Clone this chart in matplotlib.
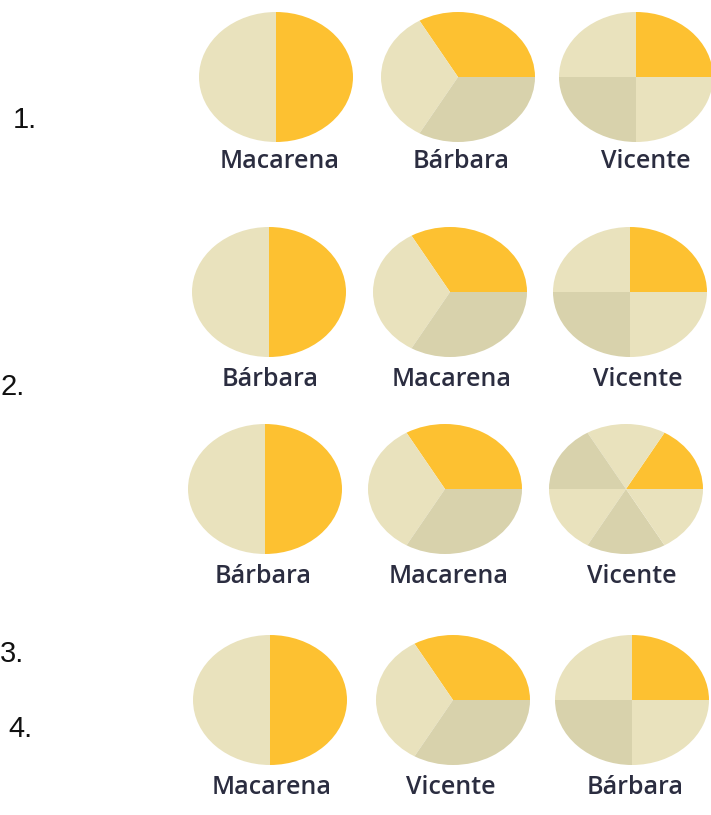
import matplotlib
matplotlib.use("Agg")
import matplotlib.pyplot as plt

W, H = 711, 815

# Option numbers on the left
option_labels = ["1.", "2.", "3.", "4."]

# Names under each pie, per option
names_opt1 = ["Macarena", "Bárbara", "Vicente"]
names_opt2 = ["Bárbara", "Macarena", "Vicente"]
names_opt3 = ["Bárbara", "Macarena", "Vicente"]
names_opt4 = ["Macarena", "Vicente", "Bárbara"]

# Number of equal parts each pie is divided into (one part highlighted)
parts_opt1 = [2, 3, 4]
parts_opt2 = [2, 3, 4]
parts_opt3 = [2, 3, 6]
parts_opt4 = [2, 3, 4]

names = [names_opt1, names_opt2, names_opt3, names_opt4]
parts = [parts_opt1, parts_opt2, parts_opt3, parts_opt4]

HIGHLIGHT = "#FDC131"
LIGHT = "#E9E2BD"
DARK = "#D8D2AC"

# layout in pixels
row_cy = [77, 292, 489, 700]
row_cx = [[276, 458, 636], [269, 450, 630], [265, 445, 626], [270, 453, 632]]
label_base = [168, 386, 583, 794]
label_cx = [[280, 461, 646], [270, 452, 638], [263, 449, 632], [272, 451, 635]]
num_pos = [(13, 128), (0, 395), (0, 662), (8, 737)]
RX, RY = 77, 65


def wedge_colors(n):
    if n == 2:
        return [HIGHLIGHT, LIGHT]
    if n == 3:
        return [HIGHLIGHT, LIGHT, DARK]
    return [HIGHLIGHT] + [LIGHT if i % 2 == 1 else DARK for i in range(1, n)]


fig = plt.figure(figsize=(W / 100, H / 100), dpi=100)
fig.patch.set_facecolor("white")

for r in range(4):
    cy = row_cy[r]
    for c in range(3):
        cx = row_cx[r][c]
        n = parts[r][c]
        ax = fig.add_axes([(cx - RX) / W, 1 - (cy + RY) / H, 2 * RX / W, 2 * RY / H])
        start = -90 if n == 2 else 0
        ax.pie([1] * n, colors=wedge_colors(n), startangle=start,
               counterclock=True, radius=1,
               wedgeprops=dict(linewidth=0, antialiased=True))
        ax.set_aspect("auto")
        ax.set_xlim(-1, 1)
        ax.set_ylim(-1, 1)
        ax.axis("off")
        fig.text(label_cx[r][c] / W, 1 - label_base[r] / H, names[r][c],
                 ha="center", va="baseline", fontsize=18,
                 family="Open Sans", weight="semibold", color="#2B2D40")

for lab, (x, y) in zip(option_labels, num_pos):
    fig.text(x / W, 1 - y / H, lab, ha="left", va="baseline",
             fontsize=21, family="Liberation Sans", color="#111111")

fig.savefig("out.png", dpi=100, facecolor="white")
